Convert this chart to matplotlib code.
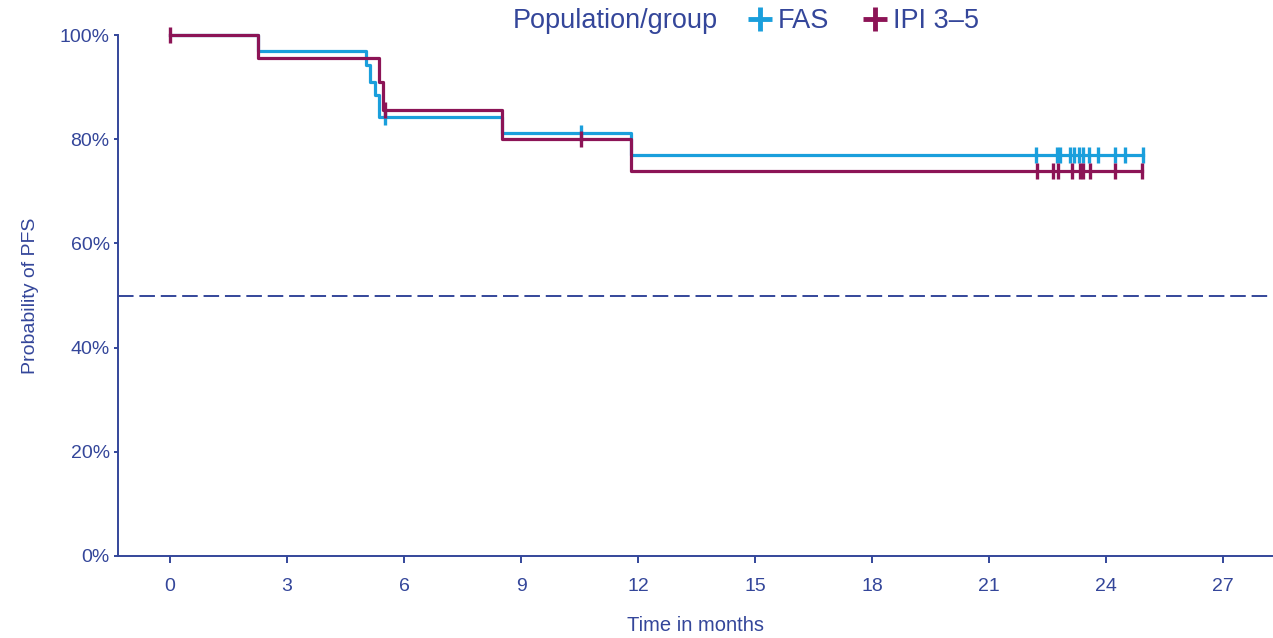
import numpy as np
import matplotlib
matplotlib.use("Agg")
from matplotlib import pyplot as plt
from matplotlib.lines import Line2D

# Kaplan-Meier step data (months, % PFS)
fas_times = [0, 2.26, 5.03, 5.13, 5.26, 5.37, 8.5, 11.81]
fas_surv = [100, 97.0, 94.3, 91.0, 88.5, 84.3, 81.1, 77.0]
fas_censor = [5.51, 10.53, 22.2, 22.74, 22.82, 23.08, 23.18, 23.31, 23.41,
              23.56, 23.79, 24.23, 24.49, 24.95]

ipi_times = [0, 2.26, 5.37, 5.45, 8.5, 11.81]
ipi_surv = [100, 95.5, 91.0, 85.6, 80.0, 73.9]
ipi_censor = [0, 5.5, 10.53, 22.23, 22.64, 22.77, 23.13, 23.33, 23.41,
              23.59, 24.23, 24.92]

x_ticks = [0, 3, 6, 9, 12, 15, 18, 21, 24, 27]
y_ticks = [0, 20, 40, 60, 80, 100]

blue = "#1a9fdc"
magenta = "#8c1456"
navy = "#34469a"

plt.rcParams['font.family'] = ['Liberation Sans', 'DejaVu Sans']

fig = plt.figure(figsize=(12.73, 6.38), dpi=100)
ax = fig.add_axes([118 / 1273, 1 - 556 / 638, (1273 - 118) / 1273, (556 - 35) / 638])


def km_curve(times, surv, censor, color):
    end = max(censor)
    xs = list(times) + [end]
    ys = list(surv) + [surv[-1]]
    ax.step(xs, ys, where="post", color=color, lw=2.3, clip_on=False, zorder=3)
    idx = np.searchsorted(times, censor, side="right") - 1
    cy = np.array(surv)[idx]
    ax.plot(censor, cy, ls="none", marker="|", ms=11, mew=2.4, color=color,
            clip_on=False, zorder=3)


km_curve(fas_times, fas_surv, fas_censor, blue)
km_curve(ipi_times, ipi_surv, ipi_censor, magenta)

ax.axhline(50, color=navy, lw=1.4, ls=(0, (8, 3)), zorder=2)

ax.set_xlim(-1.333, 28.28)
ax.set_ylim(0, 100)
ax.set_xticks(x_ticks)
ax.set_yticks(y_ticks)
ax.set_yticklabels([f"{v}%" for v in y_ticks])

for s in ["top", "right"]:
    ax.spines[s].set_visible(False)
for s in ["left", "bottom"]:
    ax.spines[s].set_color(navy)
    ax.spines[s].set_linewidth(1.4)

ax.tick_params(axis="x", colors=navy, labelcolor=navy, length=5, width=1.4,
               pad=11, labelsize=14)
ax.tick_params(axis="y", colors=navy, labelcolor=navy, length=3, width=1.4,
               pad=3, labelsize=14)

ax.set_xlabel("Time in months", color=navy, fontsize=14.5, labelpad=15)
ax.set_ylabel("Probability of PFS", color=navy, fontsize=14, labelpad=15)

# legend row at the top
fig.text(513 / 1273, 1 - 21 / 638, "Population/group", color=navy,
         fontsize=19.5, va="center", ha="left")
handles = [Line2D([], [], ls="none", marker="+", ms=17, mew=3.5, color=blue),
           Line2D([], [], ls="none", marker="+", ms=17, mew=3.5, color=magenta)]
leg = fig.legend(handles, ["FAS", "IPI 3\u20135"], loc="center left",
                 bbox_to_anchor=(744 / 1273, 1 - 21 / 638), ncol=2,
                 frameon=False, fontsize=19.5, handlelength=1.2,
                 handletextpad=0.05, columnspacing=1.1, borderaxespad=0,
                 borderpad=0)
for t in leg.get_texts():
    t.set_color(navy)

fig.savefig("out.png", dpi=100)
